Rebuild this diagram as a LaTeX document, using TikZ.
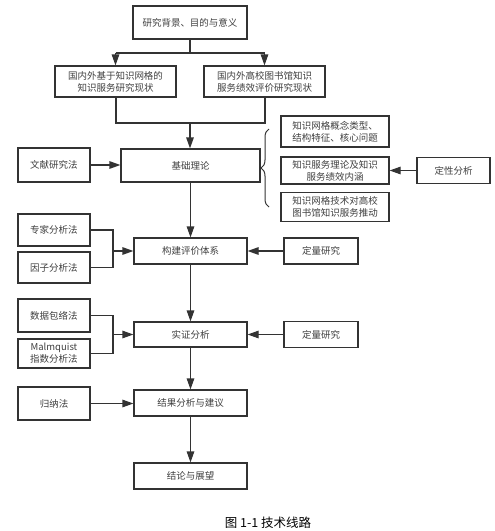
\documentclass[tikz,border=0pt]{standalone}
\usepackage{fontspec}
\newfontfamily\cjk{Noto Sans CJK SC}
\usetikzlibrary{arrows.meta,decorations.pathreplacing}
\begin{document}
\begin{tikzpicture}[x=1pt,y=-1pt,
  box/.style={draw=black!80, line width=1.2pt, fill=white, text=black!75,
    font=\cjk\fontsize{9.5}{12}\selectfont, align=center, inner sep=0pt},
  arr/.style={draw=black!80, line width=1.2pt, -{Triangle[length=11pt,width=7.5pt]}},
  ln/.style={draw=black!80, line width=1.2pt},
  bold/.style={draw=black!80, line width=2pt}]
\useasboundingbox (0,0) rectangle (495,531);
\fill[white] (0,0) rectangle (495,531);

\node[box, minimum width=114pt, minimum height=33pt] (top) at (190,22.5) {研究背景、目的与意义};
\node[box, minimum width=121pt, minimum height=31pt] (b1) at (115.5,81.5) {国内外基于知识网格的\\知识服务研究现状};
\node[box, minimum width=121pt, minimum height=31pt] (b2) at (264.5,81.5) {国内外高校图书馆知识\\服务绩效评价研究现状};
\node[box, minimum width=139pt, minimum height=33pt] (jc) at (190.5,165.5) {基础理论};
\node[box, minimum width=72pt, minimum height=34pt] (wx) at (54,165) {文献研究法};
\node[box, minimum width=108pt, minimum height=31pt] (r1) at (335,131.5) {知识网格概念类型、\\结构特征、核心问题};
\node[box, minimum width=108pt, minimum height=27pt] (r2) at (335,170.5) {知识服务理论及知识\\服务绩效内涵};
\node[box, minimum width=108pt, minimum height=29pt] (r3) at (335,207) {知识网格技术对高校\\图书馆知识服务推动};
\node[box, minimum width=73pt, minimum height=26pt] (dx) at (453.5,170.5) {定性分析};
\node[box, minimum width=113pt, minimum height=26pt] (gj) at (190.5,251) {构建评价体系};
\node[box, minimum width=72pt, minimum height=32pt] (zj) at (54,230) {专家分析法};
\node[box, minimum width=72pt, minimum height=31pt] (yz) at (54,267.5) {因子分析法};
\node[box, minimum width=74pt, minimum height=26pt] (dl1) at (321,251) {定量研究};
\node[box, minimum width=113pt, minimum height=25pt] (sz) at (190.5,334.5) {实证分析};
\node[box, minimum width=72pt, minimum height=33pt] (sj) at (54,315.5) {数据包络法};
\node[box, minimum width=72pt, minimum height=29pt] (mq) at (54,353.5) {Malmquist\\指数分析法};
\node[box, minimum width=74pt, minimum height=26pt] (dl2) at (321,334.5) {定量研究};
\node[box, minimum width=113pt, minimum height=26pt] (jg) at (190.5,403) {结果分析与建议};
\node[box, minimum width=72pt, minimum height=33pt] (gn) at (54,403.5) {归纳法};
\node[box, minimum width=113pt, minimum height=26pt] (jl) at (190.5,476) {结论与展望};
\node[font=\cjk\fontsize{12.5}{14}\selectfont, text=black] (cap) at (268,523) {图 1-1 技术线路};

\coordinate (s) at (190,53);
\draw[ln] (top.south) -- (s);
\draw[bold] (b1.north |- s) -- (b2.north |- s);
\draw[arr] (b1.north |- s) -- (b1.north);
\draw[arr] (b2.north |- s) -- (b2.north);
\coordinate (m) at (190,123);
\draw[bold] (b1.south) -- (b1.south |- m) -- (b2.south |- m) -- (b2.south);
\draw[arr] (m) -- (m |- jc.north);
\draw[arr] (wx.east) -- (wx.east -| jc.west);
\draw[arr] (dx.west) -- (dx.west -| r2.east);
\draw[decorate, decoration={brace, amplitude=8pt}, line width=1pt, draw=black!80] (269,207) -- (269,129);
\draw[arr] (jc.south) -- (gj.north);
\coordinate (j1) at (113,251);
\draw[ln] (zj.east) -| (j1) |- (yz.east);
\draw[arr] (j1) -- (gj.west);
\draw[arr] (dl1.west) -- (gj.east);
\draw[arr] (gj.south) -- (sz.north);
\coordinate (j2) at (113,334.5);
\draw[ln] (sj.east) -| (j2) |- (mq.east);
\draw[arr] (j2) -- (sz.west);
\draw[arr] (dl2.west) -- (sz.east);
\draw[arr] (sz.south) -- (jg.north);
\draw[arr] (gn.east) -- (gn.east -| jg.west);
\draw[arr] (jg.south) -- (jl.north);
\end{tikzpicture}
\end{document}
